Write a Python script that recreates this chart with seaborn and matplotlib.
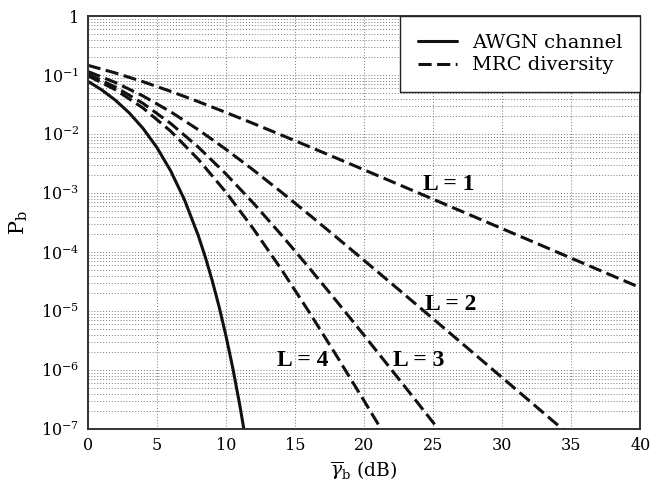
import numpy as np
import pandas as pd
import matplotlib
matplotlib.use("Agg")
import matplotlib.pyplot as plt
import matplotlib.ticker as mticker
import seaborn as sns

# values (SNR in dB vs bit error probability)
snr_awgn = [0, 1, 2, 3, 4, 5, 6, 7, 8, 8.5, 9, 9.5, 10, 10.5, 11, 11.5, 12]
pb_awgn = [7.865e-2, 5.628e-2, 3.751e-2, 2.288e-2, 1.250e-2, 5.954e-3,
           2.388e-3, 7.727e-4, 1.909e-4, 8.40e-5, 3.363e-5, 1.21e-5,
           3.872e-6, 1.084e-6, 2.613e-7, 5.33e-8, 9.006e-9]

snr_mrc = [0, 2, 4, 6, 8, 10, 12, 14, 16, 18, 20,
           22, 24, 26, 28, 30, 32, 34, 36, 38, 40]
pb_l1 = [1.4645e-1, 1.0849e-1, 7.7135e-2, 5.2995e-2, 3.5455e-2, 2.327e-2,
         1.5065e-2, 9.665e-3, 6.165e-3, 3.915e-3, 2.481e-3,
         1.570e-3, 9.923e-4, 6.268e-4, 3.9575e-4, 2.498e-4,
         1.5774e-4, 9.952e-5, 6.280e-5, 3.962e-5, 2.500e-5]
pb_l2 = [1.1510e-1, 7.4809e-2, 4.4244e-2, 2.3870e-2, 1.1874e-2, 5.5283e-3,
         2.4481e-3, 1.0459e-3, 4.3612e-4, 1.7884e-4, 7.2565e-5,
         2.9236e-5, 1.1730e-5, 4.6926e-6, 1.8740e-6, 7.4750e-7,
         2.9793e-7, 1.1872e-7, 4.728e-8, 1.884e-8, 7.5e-9]
pb_l3 = [1.0352e-1, 6.2655e-2, 3.3111e-2, 1.5143e-2, 6.0187e-3, 2.1138e-3,
         6.7169e-4, 1.9788e-4, 5.527e-5, 1.4866e-5, 3.9038e-6,
         1.0088e-6, 2.5801e-7, 6.5555e-8, 1.6587e-8, 4.185e-9]
pb_l4 = [9.7507e-2, 5.6443e-2, 2.7654e-2, 1.1217e-2, 3.7421e-3, 1.0386e-3,
         2.4631e-4, 5.1612e-5, 9.8659e-6, 1.7698e-6, 3.0389e-7,
         5.0709e-8, 8.305e-9]

curve_labels = ["L = 1", "L = 2", "L = 3", "L = 4"]
label_x = [24.3, 24.4, 22.1, 13.7]
label_y = [10 ** -2.86, 10 ** -4.88, 10 ** -5.83, 10 ** -5.83]

ytick_vals = [1e-7, 1e-6, 1e-5, 1e-4, 1e-3, 1e-2, 1e-1, 1]
ytick_text = [r"$\mathregular{10^{-7}}$", r"$\mathregular{10^{-6}}$",
              r"$\mathregular{10^{-5}}$", r"$\mathregular{10^{-4}}$",
              r"$\mathregular{10^{-3}}$", r"$\mathregular{10^{-2}}$",
              r"$\mathregular{10^{-1}}$", "1"]

sns.set_style("white")
plt.rcParams["font.family"] = ["DejaVu Serif"]
plt.rcParams["mathtext.fontset"] = "dejavuserif"
plt.rcParams["text.color"] = "black"
plt.rcParams["axes.labelcolor"] = "black"
plt.rcParams["xtick.color"] = "black"
plt.rcParams["ytick.color"] = "black"

fig = plt.figure(figsize=(6.5, 4.86), dpi=100)
ax = fig.add_axes([0.135, 0.117, 0.850, 0.850])

dash = (0, (4.3, 1.8))
lw = 2.2
sns.lineplot(x=snr_awgn, y=pb_awgn, ax=ax, color="#111111", linewidth=lw,
             label="AWGN channel", sort=False)
mrc = [pb_l1, pb_l2, pb_l3, pb_l4]
for i, pb in enumerate(mrc):
    sns.lineplot(x=snr_mrc[:len(pb)], y=pb, ax=ax, color="#111111",
                 linewidth=lw, linestyle=dash, sort=False,
                 label="MRC diversity" if i == 0 else "_nolegend_")

ax.set_yscale("log")
ax.set_xlim(0, 40)
ax.set_ylim(1e-7, 1)
ax.set_xticks([0, 5, 10, 15, 20, 25, 30, 35, 40])
ax.yaxis.set_major_locator(mticker.FixedLocator(ytick_vals))
ax.yaxis.set_major_formatter(mticker.FixedFormatter(ytick_text))
ax.yaxis.set_minor_locator(mticker.LogLocator(base=10, subs=np.arange(2, 10), numticks=20))
ax.yaxis.set_minor_formatter(mticker.NullFormatter())
ax.tick_params(axis="both", which="both", length=0, labelsize=11.5, pad=6)

ax.grid(True, which="major", axis="both", linestyle=(0, (1, 2)), color="#777777", linewidth=0.7)
ax.grid(True, which="minor", axis="y", linestyle=(0, (1, 2)), color="#777777", linewidth=0.7)
for sp in ax.spines.values():
    sp.set_color("#333333")
    sp.set_linewidth(1.4)

for txt, tx, ty in zip(curve_labels, label_x, label_y):
    ax.text(tx, ty, txt, ha="left", va="center", fontsize=17,
            fontweight="bold", family=["Liberation Serif", "DejaVu Serif"])

ax.set_xlabel(r"$\overline{\gamma}_{\mathrm{b}}$ (dB)", fontsize=13.5, labelpad=4)
ax.set_ylabel(r"$\mathregular{P_b}$", fontsize=15, labelpad=8)

leg = ax.legend(loc="upper right", fontsize=14, frameon=True, fancybox=False,
                borderaxespad=0, handlelength=2.0, borderpad=0.9,
                labelspacing=0.25, handletextpad=0.8)
leg.get_frame().set_edgecolor("#222222")
leg.get_frame().set_linewidth(1.0)
leg.get_frame().set_alpha(1)

fig.savefig("out.png", dpi=100)
